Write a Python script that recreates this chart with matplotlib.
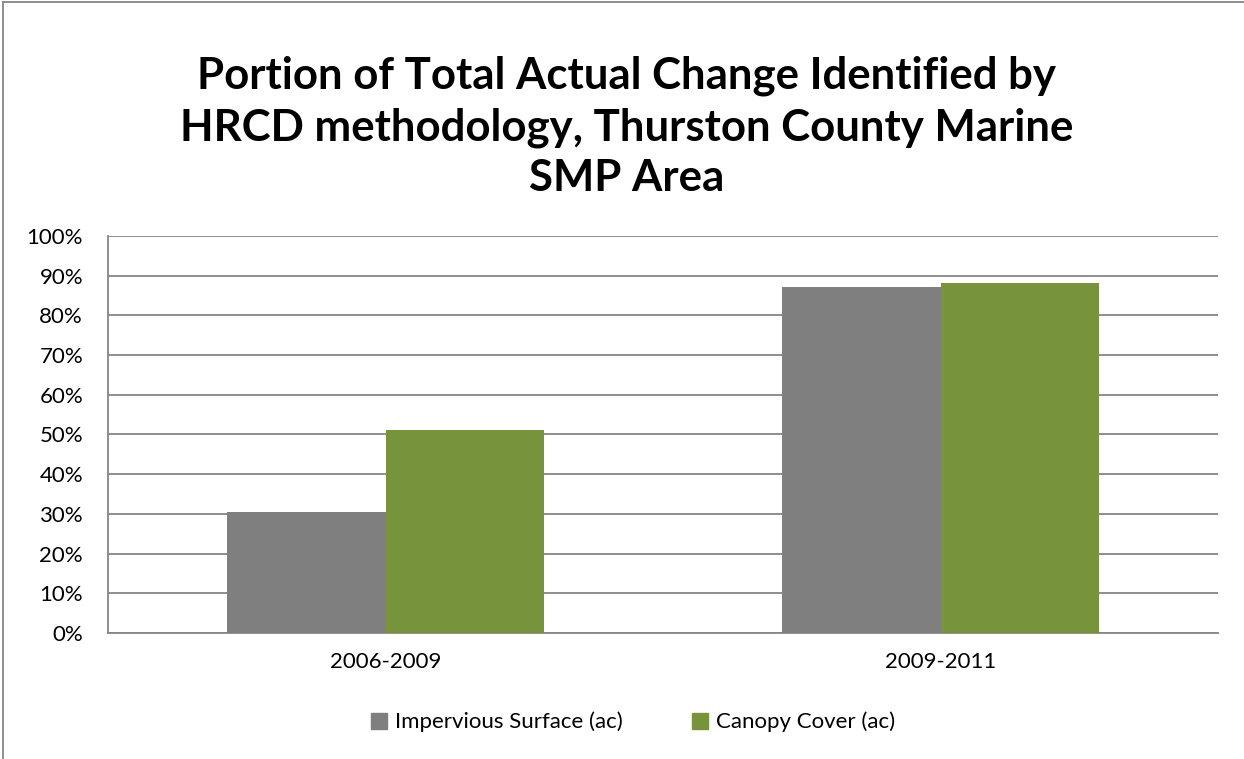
import numpy as np
import matplotlib
matplotlib.use('Agg')
import matplotlib.pyplot as plt
from matplotlib.lines import Line2D
from matplotlib.ticker import FuncFormatter

plt.rcParams['font.family'] = ['Lato', 'DejaVu Sans']

# data
periods = ['2006-2009', '2009-2011']
impervious = [30.5, 87.1]   # %
canopy = [51.1, 88.2]       # %
series_names = ['Impervious Surface (ac)', 'Canopy Cover (ac)']
colors = ['#7F7F7F', '#77933C']

fig = plt.figure(figsize=(12.44, 7.59), dpi=100)
ax = fig.add_axes([108/1244, 126/759, 1110/1244, 397/759])

x = np.arange(len(periods))
w = 0.285
ax.bar(x - w/2, impervious, w, color=colors[0], zorder=3)
ax.bar(x + w/2, canopy, w, color=colors[1], zorder=3)

ax.set_xlim(-0.5, 1.5)
ax.set_ylim(0, 100)
ax.set_yticks(np.arange(0, 101, 10))
ax.yaxis.set_major_formatter(FuncFormatter(lambda v, p: '%d%%' % v))
ax.grid(axis='y', color='#868686', lw=1.3, zorder=0)
ax.set_xticks(x)
ax.set_xticklabels(periods)
ax.tick_params(axis='y', length=0, labelsize=16, pad=18)
ax.tick_params(axis='x', length=0, labelsize=16, pad=14)
for s in ['top', 'right']:
    ax.spines[s].set_visible(False)
for s in ['left', 'bottom']:
    ax.spines[s].set_color('#868686')
    ax.spines[s].set_linewidth(1.3)

fig.text(0.504, 1 - 127/759, 'Portion of Total Actual Change Identified by\nHRCD methodology, Thurston County Marine\nSMP Area',
         ha='center', va='center', fontsize=31.5, fontweight='bold', linespacing=1.32)

handles = [Line2D([], [], marker='s', ls='', color=c, markersize=11) for c in colors]
fig.legend(handles, series_names, loc='center', bbox_to_anchor=(632/1244, 1 - 722/759),
           ncol=2, frameon=False, fontsize=16, handlelength=0.9, handletextpad=0.3,
           columnspacing=3.0, borderpad=0)

# chart frame
fig.add_artist(Line2D([3/1244, 3/1244], [0, 1 - 2/759], transform=fig.transFigure, color='#868686', lw=1.3))
fig.add_artist(Line2D([3/1244, 1], [1 - 2/759, 1 - 2/759], transform=fig.transFigure, color='#868686', lw=1.3))

fig.savefig('out.png', dpi=100)
